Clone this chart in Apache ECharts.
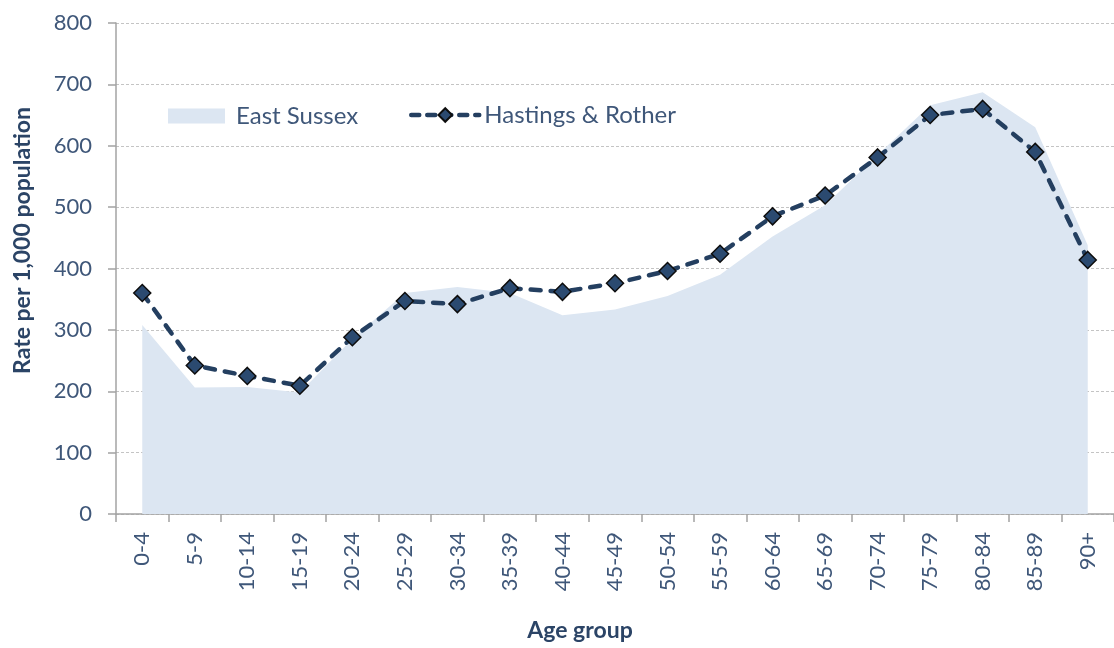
<!DOCTYPE html>
<html>
<head>
<meta charset="utf-8">
<title>Rate per 1,000 population by age group</title>
<script src="https://cdn.jsdelivr.net/npm/echarts@6/dist/echarts.min.js"></script>
<style>
  html, body { margin: 0; padding: 0; background: #fff; }
  #chart { width: 1114px; height: 648px; }
</style>
</head>
<body>
<div id="chart"></div>
<script>
// Grupos de idade (eixo x)
const ageGroups = ['0-4', '5-9', '10-14', '15-19', '20-24', '25-29', '30-34', '35-39', '40-44',
  '45-49', '50-54', '55-59', '60-64', '65-69', '70-74', '75-79', '80-84', '85-89', '90+'];

// Valores
const eastSussex = [308, 206, 207, 198, 285, 360, 370, 360, 324, 333, 355, 390, 452, 503, 585, 666, 687, 630, 438];
const hastingsRother = [360, 242, 225, 209, 288, 347, 342, 368, 362, 376, 396, 424, 485, 519, 581, 650, 660, 590, 414];

const yTicks = { min: 0, max: 800, interval: 100 };

const labelColor = '#3f5779';
const titleColor = '#2b4466';
const fontFamily = 'Lato, "Open Sans", sans-serif';

const chart = echarts.init(document.getElementById('chart'));

const option = {
  backgroundColor: '#fff',
  animation: false,
  textStyle: { fontFamily: fontFamily },
  grid: {
    left: 116,
    top: 23,
    bottom: 134,
    width: 1004,
    containLabel: false
  },
  legend: [{
    left: 163,
    top: 99,
    icon: 'rect',
    itemWidth: 57,
    itemHeight: 15,
    itemGap: 0,
    textStyle: { color: labelColor, fontSize: 24, padding: [0, 0, 0, 6] },
    data: ['East Sussex']
  }, {
    left: 404,
    top: 98,
    itemWidth: 68,
    itemHeight: 17,
    lineStyle: { width: 4.5, type: [8, 8], cap: 'round' },
    textStyle: { color: labelColor, fontSize: 24, padding: [0, 0, 0, 0] },
    data: ['Hastings & Rother']
  }],
  xAxis: {
    type: 'category',
    data: ageGroups,
    boundaryGap: true,
    name: 'Age group',
    nameLocation: 'middle',
    nameGap: 105,
    nameTextStyle: {
      color: titleColor,
      fontSize: 23,
      fontWeight: 'bold',
      padding: [0, 70, 0, 0]
    },
    axisLine: { lineStyle: { color: '#a3a3a3', width: 1.5 } },
    axisTick: { show: true, length: 8, lineStyle: { color: '#a3a3a3', width: 1.5 } },
    axisLabel: {
      rotate: 90,
      margin: 18,
      color: labelColor,
      fontSize: 22,
      interval: 0
    }
  },
  yAxis: {
    type: 'value',
    min: yTicks.min,
    max: yTicks.max,
    interval: yTicks.interval,
    name: 'Rate per 1,000 population',
    nameLocation: 'middle',
    nameRotate: 90,
    nameGap: 82,
    nameTextStyle: {
      color: titleColor,
      fontSize: 23,
      fontWeight: 'bold',
      padding: [0, 0, 0, 56]
    },
    axisLine: { show: true, lineStyle: { color: '#a3a3a3', width: 1.5 } },
    axisTick: { show: true, length: 8, lineStyle: { color: '#a3a3a3', width: 1.5 } },
    axisLabel: { color: labelColor, fontSize: 22, margin: 24 },
    splitLine: {
      show: true,
      lineStyle: { color: '#c4c4c4', width: 1, type: [3, 2] }
    }
  },
  series: [{
    name: 'East Sussex',
    type: 'line',
    data: eastSussex,
    symbol: 'none',
    showSymbol: false,
    lineStyle: { width: 0, color: '#dce6f2' },
    itemStyle: { color: '#dce6f2' },
    areaStyle: { color: '#dce6f2', opacity: 1 },
    z: 1
  }, {
    name: 'Hastings & Rother',
    type: 'line',
    data: hastingsRother,
    symbol: 'diamond',
    symbolSize: 17,
    lineStyle: { color: '#243f60', width: 4.5, type: [10, 10], cap: 'round' },
    itemStyle: { color: '#2b4a70', borderColor: '#0d0d0d', borderWidth: 1.5 },
    z: 3
  }]
};

chart.setOption(option);
</script>
</body>
</html>
